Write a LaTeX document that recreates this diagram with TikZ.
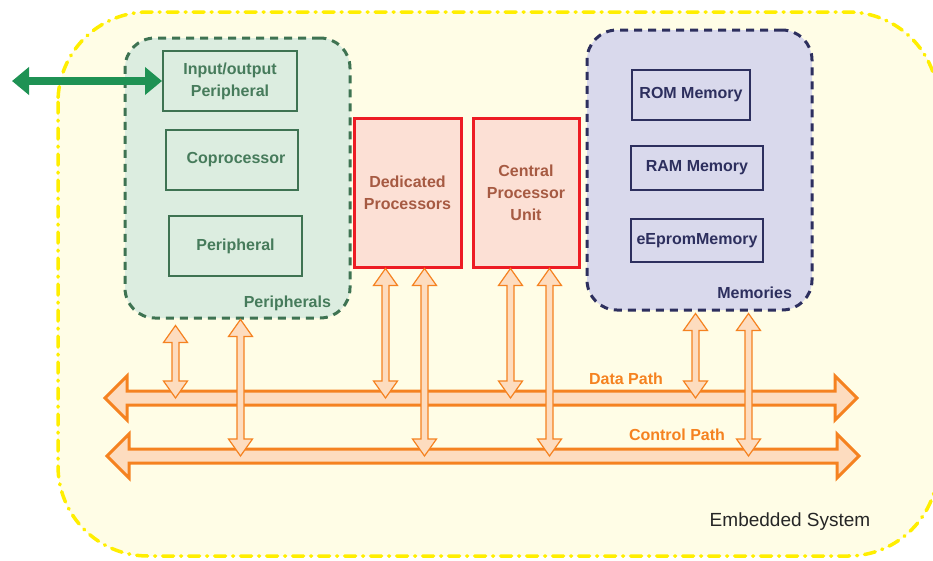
\documentclass[tikz,border=0pt]{standalone}
\usepackage{fontspec}
\setmainfont{Liberation Sans}
\usetikzlibrary{calc,positioning,arrows.meta}

\definecolor{sysfill}{HTML}{FFFDE6}
\definecolor{sysline}{HTML}{FFEE00}
\definecolor{perfill}{HTML}{DCEDE0}
\definecolor{perline}{HTML}{3E7352}
\definecolor{pertext}{HTML}{467B5B}
\definecolor{procfill}{HTML}{FCE0D5}
\definecolor{procline}{HTML}{ED1C24}
\definecolor{proctext}{HTML}{A65A42}
\definecolor{memfill}{HTML}{D9D9EC}
\definecolor{memline}{HTML}{2D2F5E}
\definecolor{busline}{HTML}{F58220}
\definecolor{busfill}{HTML}{FDDCBF}
\definecolor{iogreen}{HTML}{1F9254}

\tikzset{
  system/.style={ % the whole embedded system
    draw=sysline, fill=sysfill, line width=3.5pt, line cap=round,
    dash pattern=on 11pt off 7pt on 1pt off 7pt, rounded corners=90pt
  },
  group/.style={ % dashed outline round a group of blocks
    rectangle, line width=3pt, dash pattern=on 8pt off 6pt,
    rounded corners=30pt, inner sep=0pt
  },
  block/.style={ % one hardware block
    rectangle, inner sep=0pt, align=center
  },
  periph/.style={block, draw=perline, text=pertext, line width=2pt},
  proc/.style={block, draw=procline, fill=procfill, text=proctext, line width=3pt},
  mem/.style={block, draw=memline, text=memline, line width=1.5pt},
  bus/.style={draw=busline, fill=busfill, line width=3pt, line join=miter},
  link/.style={draw=busline, fill=busfill, line width=1.2pt, line join=miter},
  ioarrow/.style={
    draw=iogreen, line width=8pt,
    {Triangle[length=17pt,width=27pt]}-{Triangle[length=17pt,width=27pt]}
  }
}

% fat two headed arrow lying on a bus line
\newcommand\busarrow[2]{%
  \draw[bus] let \p1=(#1), \p2=(#2) in
    (\x1,\y1) -- (\x1+22pt,\y1+22pt) -- (\x1+22pt,\y1+7pt) -- (\x2-22pt,\y1+7pt)
    -- (\x2-22pt,\y1+22pt) -- (\x2,\y1) -- (\x2-22pt,\y1-22pt) -- (\x2-22pt,\y1-7pt)
    -- (\x1+22pt,\y1-7pt) -- (\x1+22pt,\y1-22pt) -- cycle;}

% thin two headed arrow from a block down to a bus
\newcommand\vlink[2]{%
  \draw[link] let \p1=(#1), \p2=(#2) in
    (\x1,\y1) -- (\x1+12pt,\y1-17pt) -- (\x1+3.5pt,\y1-17pt) -- (\x1+3.5pt,\y2+17pt)
    -- (\x1+12pt,\y2+17pt) -- (\x1,\y2) -- (\x1-12pt,\y2+17pt) -- (\x1-3.5pt,\y2+17pt)
    -- (\x1-3.5pt,\y1-17pt) -- (\x1-12pt,\y1-17pt) -- cycle;}

\begin{document}
\begin{tikzpicture}[x=1pt, y=1pt, font=\fontsize{16}{22}\selectfont\bfseries]
  \useasboundingbox (0,0) rectangle (933,-560);
  \draw[system] (58,-12) rectangle (938,-556);

  % peripherals
  \node[group, draw=perline, fill=perfill, minimum width=225pt, minimum height=280pt] (pers) at (237.5,-178) {};
  \node[periph, minimum width=134pt, minimum height=60pt] (io) at (230,-81) {Input/output\\Peripheral};
  \node[periph, minimum width=132pt, minimum height=60pt] (copro) at (232,-160) {\hspace{8pt}Coprocessor};
  \node[periph, minimum width=133pt, minimum height=60pt] (periph) at (235.5,-246) {Peripheral};
  \node[text=pertext, anchor=base east] (perslbl) at ($(pers.south east)+(-17,12)$) {Peripherals};

  % processors
  \node[proc, minimum width=107pt, minimum height=149pt] (ded) at (407.5,-192.5) {Dedicated\\Processors};
  \node[proc, minimum width=106pt, minimum height=149pt] (cpu) at (526,-192.5) {Central\\Processor\\Unit};

  % memories
  \node[group, draw=memline, fill=memfill, minimum width=225pt, minimum height=280pt] (mems) at (699.5,-170) {};
  \node[mem, minimum width=118pt, minimum height=50pt] (rom) at (691,-95) {ROM Memory};
  \node[mem, minimum width=132pt, minimum height=44pt] (ram) at (697,-168) {RAM Memory};
  \node[mem, minimum width=132pt, minimum height=43pt] (eeprom) at (697,-240.5) {eEpromMemory};
  \node[text=memline, anchor=base east] (memslbl) at ($(mems.south east)+(-18,13)$) {Memories};

  % outside world
  \coordinate (ext) at (12,-81);
  \draw[ioarrow] (ext) -- (io.west);

  % buses
  \coordinate (dataW) at (105,-398);
  \coordinate (dataE) at (857,-398);
  \coordinate (ctrlW) at (107,-456);
  \coordinate (ctrlE) at (859,-456);
  \busarrow{dataW}{dataE}
  \busarrow{ctrlW}{ctrlE}
  \node[text=busline] (datalbl) at (626,-379) {Data Path};
  \node[text=busline] (ctrllbl) at (677,-435) {Control Path};

  % block to bus links
  \vlink{$(pers.south west)+(52,-6)$}{dataW}
  \vlink{$(pers.south west)+(117,0)$}{ctrlW}
  \vlink{$(ded.south west)+(33,0)$}{dataW}
  \vlink{$(ded.south west)+(72,0)$}{ctrlW}
  \vlink{$(cpu.south west)+(39,0)$}{dataW}
  \vlink{$(cpu.south west)+(78,0)$}{ctrlW}
  \vlink{$(mems.south west)+(110,-2)$}{dataW}
  \vlink{$(mems.south west)+(163,-2)$}{ctrlW}

  \node[font=\fontsize{19}{22}\selectfont, text=black!85] (syslbl) at (790,-522) {Embedded System};
\end{tikzpicture}
\end{document}
